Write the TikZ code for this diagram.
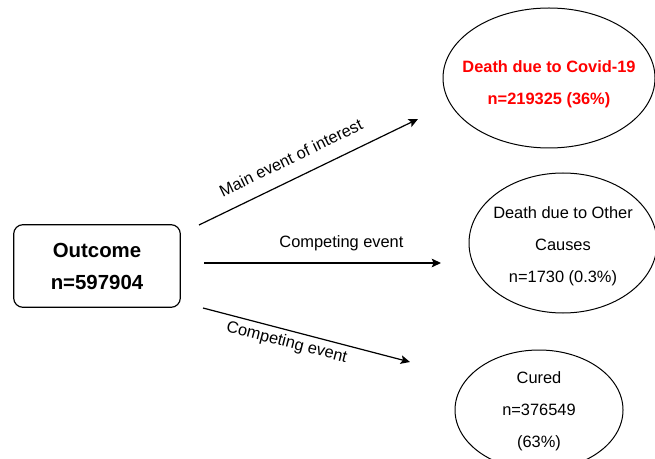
\documentclass[tikz,border=0pt]{standalone}
\usepackage{fontspec}
\setmainfont{Liberation Sans}
\usetikzlibrary{shapes.geometric,arrows.meta}

\begin{document}
\begin{tikzpicture}[x=0.75pt,y=-0.75pt,
		outbox/.style={draw,rounded corners=7pt,line width=0.9pt,minimum width=125pt,minimum height=62pt,align=center,font=\fontsize{15.3}{24}\selectfont\bfseries},
		evt/.style={draw,ellipse,line width=0.75pt,inner sep=0pt},
		evtxt/.style={align=center,font=\fontsize{12.3}{24}\selectfont},
		flow/.style={line width=0.9pt,-{Stealth[length=7pt,width=6.5pt,inset=1.5pt]}},
		lbl/.style={font=\fontsize{12.3}{15}\selectfont,sloped}]
	
	\useasboundingbox (0,0) rectangle (655,459);
	\clip (0,0) rectangle (655,459);
	
	% outcome box
	\node[outbox] (Out) at (97,266) {Outcome\\n=597904};
	
	% events
	{
		\node[evt,minimum width=159pt,minimum height=105pt] (Covid) at (549,78) {};
		\node[evtxt,text=red,font=\fontsize{12.3}{24}\selectfont\bfseries] (CovidT) at (Covid.center) [yshift=-5pt] {Death due to Covid-19\\n=219325 (36\%)};
		
		\node[evt,minimum width=141pt,minimum height=105pt] (Other) at (563,243) {};
		\node[evtxt] (OtherT) at (Other.center) [yshift=-2.5pt] {Death due to Other\\Causes\\n=1730 (0.3\%)};
		
		\node[evt,minimum width=126pt,minimum height=90pt] (Cured) at (539,410) {};
		\node[evtxt] (CuredT) at (Cured.center) [yshift=-1pt] {Cured\\n=376549\\(63\%)};
	}
	
	% arrows
	{
		\coordinate (m0) at (199,225);
		\coordinate (m1) at (418,119);
		\coordinate (c0) at (204,263);
		\coordinate (c1) at (441,263);
		\coordinate (r0) at (203,308);
		\coordinate (r1) at (410,362);
		
		\draw[flow] (m0) -- node[lbl,pos=0.46,above=7pt] (MainL) {Main event of interest} (m1);
		\draw[flow] (c0) -- node[lbl,pos=0.58,above=5.5pt] (CompL1) {Competing event} (c1);
		\draw[flow] (r0) -- node[lbl,pos=0.42,below=0pt] (CompL2) {Competing event} (r1);
	}
	
\end{tikzpicture}
\end{document}
